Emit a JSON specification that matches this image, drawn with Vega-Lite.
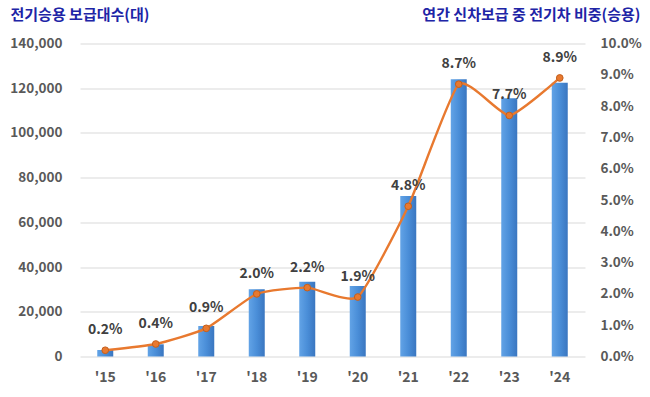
{
  "$schema": "https://vega.github.io/schema/vega-lite/v6.json",
  "width": 505,
  "height": 313,
  "autosize": {"type": "none"},
  "padding": {"left": 80, "top": 43.5, "right": 65, "bottom": 40.5},
  "background": "#ffffff",
  "config": {
    "view": {"stroke": null},
    "font": "Noto Sans CJK KR",
    "axis": {"labelFont": "Noto Sans CJK KR", "titleFont": "Noto Sans CJK KR"}
  },
  "data": {
    "values": [
      {"year": "'15", "count": 2900, "share": 0.002},
      {"year": "'16", "count": 5450, "share": 0.004},
      {"year": "'17", "count": 13640, "share": 0.009},
      {"year": "'18", "count": 30050, "share": 0.020},
      {"year": "'19", "count": 33450, "share": 0.022},
      {"year": "'20", "count": 31530, "share": 0.019},
      {"year": "'21", "count": 71780, "share": 0.048},
      {"year": "'22", "count": 123970, "share": 0.087},
      {"year": "'23", "count": 115470, "share": 0.077},
      {"year": "'24", "count": 122450, "share": 0.089}
    ]
  },
  "encoding": {
    "x": {
      "field": "year",
      "type": "ordinal",
      "sort": null,
      "scale": {"paddingInner": 0, "paddingOuter": 0},
      "axis": {
        "title": null,
        "labelAngle": 0,
        "domain": false,
        "ticks": false,
        "labelPadding": 14,
        "labelFontSize": 14,
        "labelFontWeight": "bold",
        "labelColor": "#595959"
      }
    }
  },
  "layer": [
    {
      "mark": {
        "type": "bar",
        "width": 16,
        "color": {
          "gradient": "linear",
          "x1": 0, "y1": 0, "x2": 1, "y2": 0,
          "stops": [
            {"offset": 0, "color": "#62a3e6"},
            {"offset": 0.5, "color": "#4a8ed8"},
            {"offset": 1, "color": "#3a76c0"}
          ]
        }
      },
      "encoding": {
        "y": {
          "field": "count",
          "type": "quantitative",
          "scale": {"domain": [0, 140000], "nice": false},
          "axis": {
            "values": [0, 20000, 40000, 60000, 80000, 100000, 120000, 140000],
            "format": ",d",
            "title": "전기승용 보급대수(대)",
            "titleAngle": 0,
            "titleAlign": "left",
            "titleBaseline": "middle",
            "titleX": -70,
            "titleY": -29.5,
            "titleFontSize": 15,
            "titleFontWeight": "bold",
            "titleColor": "#2024a6",
            "domain": false,
            "ticks": false,
            "labelPadding": 18,
            "labelFontSize": 13.5,
            "labelFontWeight": "bold",
            "labelColor": "#595959",
            "grid": true,
            "gridColor": "#d9d9d9",
            "gridWidth": 1
          }
        }
      }
    },
    {
      "encoding": {
        "y": {
          "field": "share",
          "type": "quantitative",
          "scale": {"domain": [0, 0.1], "nice": false},
          "axis": {
            "orient": "right",
            "values": [0, 0.01, 0.02, 0.03, 0.04, 0.05, 0.06, 0.07, 0.08, 0.09, 0.1],
            "format": ".1%",
            "title": "연간 신차보급 중 전기차 비중(승용)",
            "titleAngle": 0,
            "titleAlign": "right",
            "titleBaseline": "middle",
            "titleX": 55,
            "titleY": -29.5,
            "titleFontSize": 15,
            "titleFontWeight": "bold",
            "titleColor": "#2024a6",
            "domain": false,
            "ticks": false,
            "grid": false,
            "labelPadding": 15,
            "labelFontSize": 13.5,
            "labelFontWeight": "bold",
            "labelColor": "#595959"
          }
        }
      },
      "layer": [
        {
          "mark": {"type": "line", "color": "#e8792f", "strokeWidth": 2.4, "interpolate": "cardinal", "tension": 0.5}
        },
        {
          "mark": {"type": "point", "filled": true, "size": 45, "color": "#e8792f", "stroke": "#c45f1c", "strokeWidth": 1, "opacity": 1}
        },
        {
          "mark": {"type": "text", "dy": -20, "fontSize": 14, "fontWeight": "bold", "color": "#404040"},
          "encoding": {
            "text": {"field": "share", "type": "quantitative", "format": ".1%"}
          }
        }
      ]
    }
  ],
  "resolve": {"scale": {"y": "independent"}}
}
